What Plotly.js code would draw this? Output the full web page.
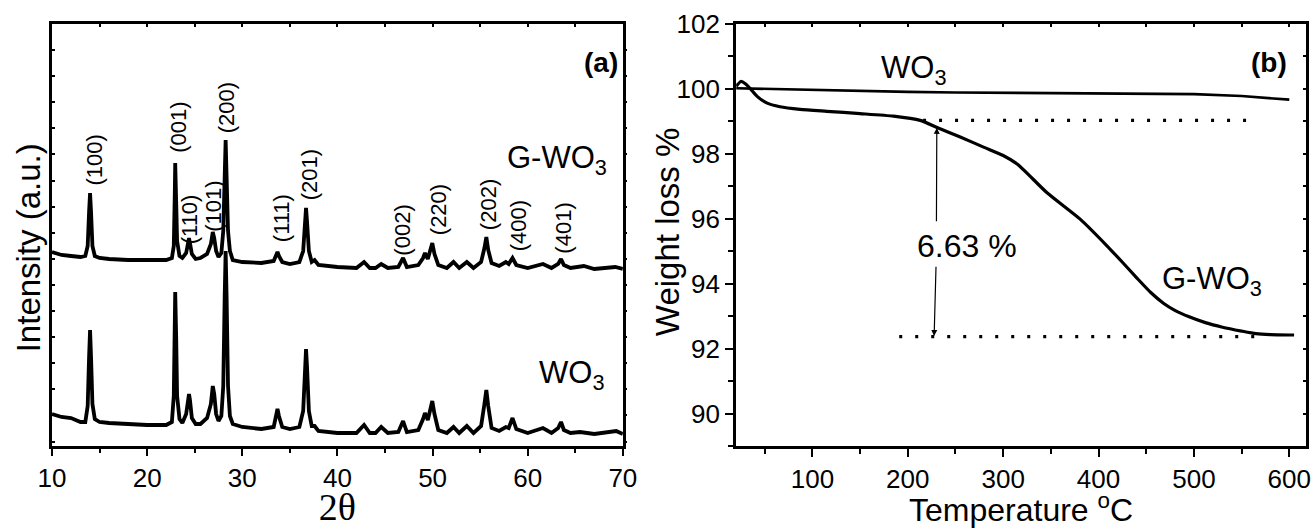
<!DOCTYPE html>
<html>
<head>
<meta charset="utf-8">
<script src="https://cdn.plot.ly/plotly-3.0.1.min.js"></script>
<style>html,body{margin:0;padding:0;background:#fff}#chart{width:1311px;height:528px}</style>
</head>
<body>
<div id="chart"></div>
<script>
// ---------- (a) XRD patterns ----------
const twoThetaG = [10.0,10.5,11.0,12.0,13.0,13.5,13.75,13.9,14.0,14.1,14.25,14.5,15.0,16.0,18.0,20.0,22.0,22.6,22.8,22.9,22.95,23.05,23.15,23.4,23.7,24.1,24.3,24.4,24.5,24.7,25.1,25.6,26.3,26.7,26.9,27.05,27.25,27.5,27.8,28.0,28.15,28.25,28.35,28.5,28.7,29.0,30.0,32.0,33.3,33.55,33.7,33.85,34.2,35.0,36.0,36.4,36.6,36.7,36.8,37.0,37.3,37.6,38.0,40.0,42.0,42.8,43.4,44.0,44.6,45.3,46.4,46.9,47.3,48.5,49.0,49.2,49.5,49.8,49.97,50.2,50.6,51.5,52.2,52.8,53.6,54.3,55.1,55.45,55.65,55.85,56.2,57.0,57.7,58.0,58.4,58.8,60.0,61.6,62.5,63.2,63.5,63.8,64.5,65.9,67.0,69.2,70.0];
const intensityG = [194,192,191,190,189,190,200,235,253,235,200,190,188,187,186,186,186,188,200,250,283,245,205,190,188,193,204,208,203,192,187,188,192,202,214,208,195,189,193,215,270,306,270,215,195,186,184,183,185,191,194,190,184,182,184,195,228,238,225,195,184,186,181,179,178,184,178,178,182,178,179,188,179,181,188,193,187,196,203,192,181,178,184,178,184,178,184,198,209,196,183,180,184,182,188,181,178,182,178,182,187,181,178,180,177,179,177];

const twoThetaW = [10.0,10.5,11.0,12.0,13.0,13.5,13.75,13.9,14.0,14.1,14.25,14.5,15.0,16.0,18.0,20.0,22.0,22.6,22.8,22.9,22.95,23.05,23.15,23.4,23.7,24.1,24.3,24.4,24.5,24.7,25.1,25.6,26.3,26.7,26.9,27.05,27.25,27.5,27.8,28.0,28.15,28.25,28.35,28.5,28.7,29.0,30.0,32.0,33.3,33.55,33.7,33.85,34.2,35.0,36.0,36.4,36.6,36.7,36.8,37.0,37.3,37.6,38.0,40.0,42.0,42.8,43.4,44.0,44.6,45.3,46.4,46.9,47.3,48.5,49.0,49.2,49.5,49.8,49.97,50.2,50.6,51.5,52.2,52.8,53.6,54.3,55.1,55.45,55.65,55.85,56.2,57.0,57.7,58.0,58.4,58.8,60.0,61.6,62.5,63.2,63.5,63.8,64.5,65.5,67.0,69.3,70.0];
const intensityW = [32,30,29,28,24,24,40,90,116,90,42,27,24,23,22,21,21,24,50,120,154,110,50,27,23,32,48,52,46,28,22,22,28,42,60,52,32,25,30,60,150,195,150,60,30,22,19,17,19,32,37,30,19,17,19,35,85,97,80,35,20,20,15,13,13,21,13,13,19,13,14,25,14,16,27,33,26,38,45,32,16,13,19,13,20,13,20,42,56,40,18,15,19,18,28,17,13,18,13,18,24,16,13,14,12,15,12];

const peakLabels = ['(100)','(001)','(110)','(101)','(200)','(111)','(201)','(002)','(220)','(202)','(400)','(401)'];
const peakLabelX = [14.37,23.22,24.43,26.9,28.31,34.09,37.04,46.75,50.59,55.84,59.0,63.67];
const peakLabelY = [286,319,227,240,338,228,271,216,236,241,220,218];

// ---------- (b) TGA curves ----------
const tempWO3 = [20,50,100,150,200,250,300,350,400,450,500,550,600];
const weightWO3 = [100.02,100.0,99.97,99.94,99.91,99.89,99.88,99.88,99.88,99.87,99.84,99.78,99.67];
const tempGWO3 = [20,25,30,35,42,52,66,87,115,150,185,213,230,255,280,300,315,346,381,409,425,440,455,468,480,495,512,530,550,565,580,600,605];
const weightGWO3 = [100.08,100.23,100.15,100.0,99.77,99.57,99.45,99.37,99.31,99.24,99.16,99.03,98.82,98.52,98.2,97.95,97.68,96.80,95.98,95.16,94.66,94.18,93.72,93.4,93.18,92.98,92.8,92.66,92.54,92.46,92.43,92.42,92.42];
const guideUpperT = [216,557];
const guideUpperW = [99.03,99.03];
const guideLowerT = [191,565];
const guideLowerW = [92.37,92.37];
const lossText = '6.63 %';

// ---------- layout geometry ----------
const W = 1311, H = 528;
const mL = 51.7, mR = 5, mT = 24, mB = 82;
const pw = W - mL - mR, ph = H - mT - mB;
const px = v => (v - mL) / pw;
const py = v => (H - mB - v) / ph;

const FONT = 'Liberation Sans, Arial, sans-serif';
const black = '#000';

const traces = [
  {x: twoThetaG, y: intensityG, xaxis:'x', yaxis:'y', mode:'lines', line:{color:black, width:3.8}, hoverinfo:'skip'},
  {x: twoThetaW, y: intensityW, xaxis:'x', yaxis:'y', mode:'lines', line:{color:black, width:3.8}, hoverinfo:'skip'},
  {x: tempWO3, y: weightWO3, xaxis:'x2', yaxis:'y2', mode:'lines', line:{color:black, width:2.6}, hoverinfo:'skip'},
  {x: tempGWO3, y: weightGWO3, xaxis:'x2', yaxis:'y2', mode:'lines', line:{color:black, width:3.2, shape:'spline', smoothing:0.6}, hoverinfo:'skip'},
  {x: guideUpperT, y: guideUpperW, xaxis:'x2', yaxis:'y2', mode:'lines', line:{color:black, width:3.3, dash:'3px,13px'}, hoverinfo:'skip'},
  {x: guideLowerT, y: guideLowerW, xaxis:'x2', yaxis:'y2', mode:'lines', line:{color:black, width:3.3, dash:'3px,13px'}, hoverinfo:'skip'},
  // carriers for the mirrored tick axes
  {x:[null], y:[null], xaxis:'x3', yaxis:'y', mode:'lines', hoverinfo:'skip'},
  {x:[null], y:[null], xaxis:'x', yaxis:'y3', mode:'lines', hoverinfo:'skip'},
  {x:[null], y:[null], xaxis:'x4', yaxis:'y2', mode:'lines', hoverinfo:'skip'},
  {x:[null], y:[null], xaxis:'x2', yaxis:'y4', mode:'lines', hoverinfo:'skip'}
];

const tickFont = {family: FONT, size: 26, color: black};
const baseAx = {showgrid:false, zeroline:false, showline:true, linecolor:black, linewidth:3, tickcolor:black, tickwidth:2, tickfont:tickFont, fixedrange:true, ticklabeloverflow:'allow'};

const annotations = [];
peakLabels.forEach((t,i) => annotations.push({
  x: peakLabelX[i], y: peakLabelY[i], xref:'x', yref:'y', text:t, textangle:-90,
  showarrow:false, xanchor:'center', yanchor:'middle', font:{family:FONT, size:22, color:black}
}));
const txt = (x, y, text, size, extra) => Object.assign({
  x: px(x), y: py(y), xref:'paper', yref:'paper', text:text, showarrow:false,
  xanchor:'center', yanchor:'middle', font:{family:FONT, size:size, color:black}
}, extra || {});
annotations.push(
  txt(601, 62, '<b>(a)</b>', 28),
  txt(1269, 62, '<b>(b)</b>', 28),
  txt(505, 160, 'G-WO<sub>3</sub>', 31, {xanchor:'left'}),
  txt(537, 375, 'WO<sub>3</sub>', 31, {xanchor:'left'}),
  txt(879, 70, 'WO<sub>3</sub>', 31, {xanchor:'left'}),
  txt(1160, 281, 'G-WO<sub>3</sub>', 31, {xanchor:'left'}),
  txt(967, 246, lossText, 32),
  txt(29, 248, 'Intensity (a.u.)', 33, {textangle:-90}),
  txt(667, 232, 'Weight loss %', 33, {textangle:-90}),
  // double arrow broken by the 6.63 % label
  {x:230.4, y:98.8, ax:230, ay:95.88, xref:'x2', yref:'y2', axref:'x2', ayref:'y2', text:'', showarrow:true, arrowhead:2, arrowsize:1, arrowwidth:1.2, arrowcolor:black, standoff:0, startstandoff:0},
  {x:227.6, y:92.39, ax:229.6, ay:94.57, xref:'x2', yref:'y2', axref:'x2', ayref:'y2', text:'', showarrow:true, arrowhead:2, arrowsize:1, arrowwidth:1.2, arrowcolor:black, standoff:0, startstandoff:0}
);

const layout = {
  width: W, height: H,
  margin: {l:mL, r:mR, t:mT, b:mB, pad:0},
  paper_bgcolor:'#fff', plot_bgcolor:'#fff',
  showlegend:false,
  font:{family:FONT, color:black},
  xaxis: Object.assign({}, baseAx, {
    domain:[0, px(622.7)], anchor:'y', range:[10,70], tick0:0, dtick:10,
    ticks:'outside', ticklen:7, mirror:true,
    minor:{dtick:5, ticks:'outside', ticklen:4, tickwidth:2, tickcolor:black},
    title:{text:'2θ', font:{family:'Liberation Serif, Times New Roman, serif', size:38, color:black}, standoff:12}
  }),
  yaxis: Object.assign({}, baseAx, {
    domain:[0,1], anchor:'x', range:[0,422], tick0:4.5, dtick:26.1,
    ticks:'inside', ticklen:3, showticklabels:false, mirror:true
  }),
  xaxis3: {overlaying:'x', side:'top', anchor:'y', range:[10,70], tick0:0, dtick:5, ticks:'inside', ticklen:3, tickwidth:2, tickcolor:black,
    showticklabels:false, showline:false, showgrid:false, zeroline:false, fixedrange:true},
  yaxis3: {overlaying:'y', side:'right', anchor:'x', range:[0,422], tick0:4.5, dtick:26.1, ticks:'outside', ticklen:3, tickwidth:2, tickcolor:black,
    showticklabels:false, showline:false, showgrid:false, zeroline:false, fixedrange:true},
  xaxis2: Object.assign({}, baseAx, {
    domain:[px(736), 1], anchor:'y2', range:[20,617.5], tick0:0, dtick:100,
    ticks:'outside', ticklen:8, mirror:true,
    minor:{dtick:50, ticks:'outside', ticklen:5, tickwidth:2, tickcolor:black},
    title:{text:'Temperature <sup>o</sup>C', font:{family:FONT, size:32, color:black}, standoff:12}
  }),
  yaxis2: Object.assign({}, baseAx, {
    domain:[0,1], anchor:'x2', range:[89,102], tick0:90, dtick:2,
    ticks:'outside', ticklen:8, mirror:true,
    minor:{dtick:1, ticks:'outside', ticklen:5, tickwidth:2, tickcolor:black}
  }),
  xaxis4: {overlaying:'x2', side:'top', anchor:'y2', range:[20,617.5], tick0:0, dtick:50, ticks:'inside', ticklen:3, tickwidth:2, tickcolor:black,
    showticklabels:false, showline:false, showgrid:false, zeroline:false, fixedrange:true},
  yaxis4: {overlaying:'y2', side:'right', anchor:'x2', range:[89,102], tick0:90, dtick:1, ticks:'inside', ticklen:3, tickwidth:2, tickcolor:black,
    showticklabels:false, showline:false, showgrid:false, zeroline:false, fixedrange:true},
  annotations: annotations
};

Plotly.newPlot('chart', traces, layout, {staticPlot:true, displayModeBar:false});
</script>
</body>
</html>
